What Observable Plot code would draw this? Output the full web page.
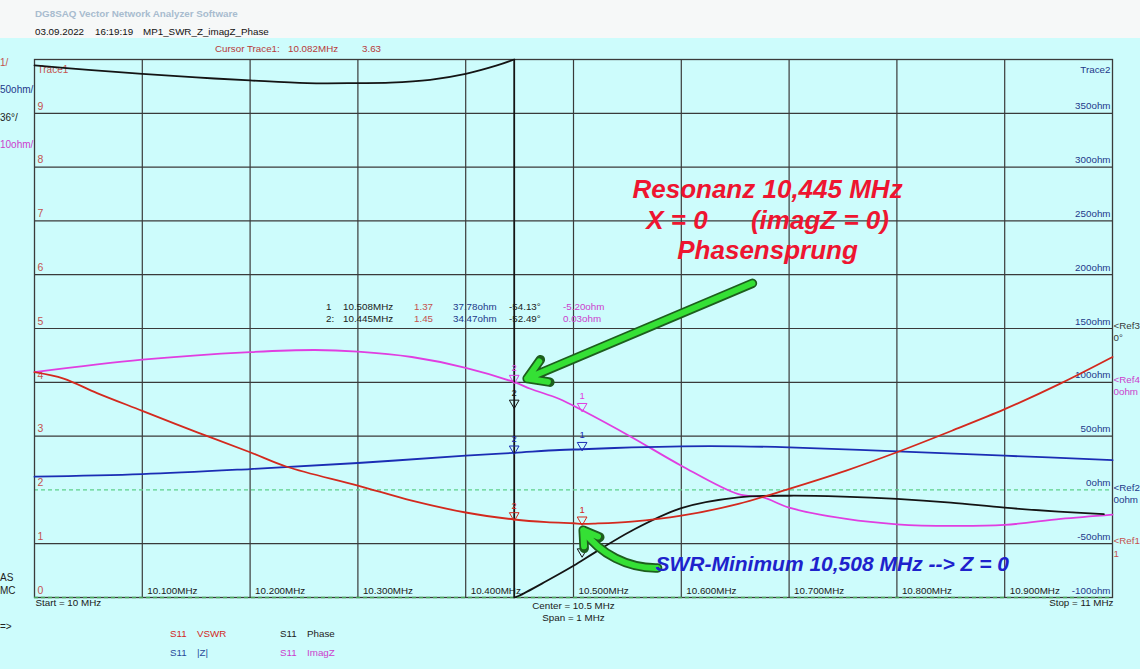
<!DOCTYPE html>
<html><head><meta charset="utf-8">
<script src="https://cdn.jsdelivr.net/npm/d3@7"></script>
<script src="https://cdn.jsdelivr.net/npm/@observablehq/plot@0.6"></script>
<style>
body{margin:0;width:1140px;height:669px;overflow:hidden;background:#cdfcfc;font-family:"Liberation Sans",Arial,sans-serif;position:relative;}
#top{position:absolute;left:0;top:0;width:1140px;height:38px;background:#f6f8f8;}
.t{position:absolute;white-space:pre;font-size:9.8px;line-height:12px;height:12px;}
#chart{position:absolute;left:0;top:38px;}
</style></head><body>
<div id="top"></div>
<div id="chart"></div>
<div id="overlay"></div>
<script>
// ---------- data ----------
const vswrF = [10.0, 10.027, 10.058, 10.1, 10.151, 10.2, 10.234, 10.3, 10.35, 10.4, 10.445, 10.475, 10.5, 10.508, 10.52, 10.554, 10.6, 10.653, 10.7, 10.753, 10.8, 10.851, 10.9, 10.952, 11.0];
const vswr  = [4.19, 4.07, 3.80, 3.47, 3.07, 2.70, 2.43, 2.08, 1.80, 1.58, 1.45, 1.40, 1.38, 1.37, 1.375, 1.41, 1.52, 1.74, 2.02, 2.36, 2.70, 3.10, 3.50, 3.98, 4.47];

const zF   = [10.0, 10.1, 10.2, 10.3, 10.4, 10.445, 10.487, 10.508, 10.554, 10.6, 10.653, 10.7, 10.8, 10.9, 11.0];
const zMag = [12.3, 14.7, 19.4, 25.0, 31.8, 34.47, 37.1, 37.78, 39.5, 40.5, 40.5, 39.5, 35.8, 31.8, 27.7];

const phaseF1 = [10.0, 10.05, 10.1, 10.15, 10.2, 10.253, 10.3, 10.33, 10.367, 10.4, 10.429, 10.445];
const phase1  = [176, 173, 170.4, 168, 166, 164.2, 164.2, 164.5, 166.4, 170.4, 176, 180];
const phaseF2 = [10.445, 10.449, 10.475, 10.5, 10.52, 10.554, 10.6, 10.653, 10.7, 10.75, 10.8, 10.85, 10.9, 10.95, 10.992];
const phase2  = [-180, -179, -169, -158.8, -149.8, -135.3, -120.2, -113, -111.9, -112.5, -114, -116.5, -119.9, -122.5, -124.2];
const phaseJumpF = [10.445];

const imagF = [10.0, 10.1, 10.2, 10.26, 10.3, 10.35, 10.4, 10.445, 10.46, 10.487, 10.508, 10.554, 10.6, 10.653, 10.676, 10.7, 10.753, 10.8, 10.852, 10.9, 10.952, 11.0];
const imagZ = [1.9, 4.2, 5.6, 6.0, 5.7, 4.7, 2.7, 0.03, -1.2, -3.1, -5.2, -10.2, -15.5, -20.8, -21.4, -23.3, -25.4, -26.4, -26.7, -26.5, -25.4, -24.6];

const markerF = [10.508, 10.445];
const markerNo = ["1", "2"];
const markerVswr = [1.37, 1.45];
const markerZ = [37.78, 34.47];
const markerPhase = [-152, -52.49];
const markerImag = [-5.20, 0.03];

const tableNo    = ["1", "2:"];
const tableFreq  = ["10.508MHz", "10.445MHz"];
const tableVswr  = ["1.37", "1.45"];
const tableZ     = ["37.78ohm", "34.47ohm"];
const tablePhase = ["-54.13°", "-52.49°"];
const tableImag  = ["-5.20ohm", "0.03ohm"];

const gridF = [10.1, 10.2, 10.3, 10.4, 10.5, 10.6, 10.7, 10.8, 10.9];
const gridDiv = [1, 3, 4, 5, 6, 7, 8, 9];
const vswrTicks = [0, 1, 2, 3, 4, 5, 6, 7, 8, 9];
const zTicks = [-100, -50, 0, 50, 100, 150, 200, 250, 300, 350];

const refNames  = ["<Ref3", "<Ref4", "<Ref2", "<Ref1"];
const refLabels = ["0°", "0ohm", "0ohm", "1"];
const refTrace  = ["phase", "imag", "z", "vswr"];
const refValue  = [0, 0, 0, 1];

const legendTraces = ["VSWR", "|Z|", "Phase", "ImagZ"];

// annotation anchors: [frequency MHz, VSWR-grid division]
const arrowRes = [[10.666, 5.84, 10.457, 4.07]];
const arrowSwr = [[10.578, 0.55, 10.509, 1.25]];
const noteRes = ["Resonanz 10,445 MHz\nX = 0\u00a0\u00a0\u00a0\u00a0\u00a0 (imagZ = 0)\nPhasensprung"];
const noteResPos = [10.680, 7.04];
const noteSwr = ["SWR-Minimum 10,508 MHz --> Z = 0"];
const noteSwrPos = [10.576, 0.61];

// ---------- scales of each trace onto the common 10-division grid ----------
const toDiv = {vswr: v => v, z: o => o / 50 + 2, phase: p => p / 36 + 5, imag: x => x / 10 + 4};
const col = {vswr: "#d3291e", z: "#1b2db4", phase: "#141414", imag: "#e03ee0"};
const font = "'Liberation Sans', Arial, sans-serif";

function markerMarks(vals, key) {
  return [
    Plot.dot(markerF, {x: d => d, y: (d, i) => toDiv[key](vals[i]), symbol: "triangle", rotate: 180, r: 3.6, stroke: col[key], fill: "none", strokeWidth: 1, dy: -4}),
    Plot.text(markerF, {x: d => d, y: (d, i) => toDiv[key](vals[i]), text: (d, i) => markerNo[i], dy: -14, fontSize: 9.5, fill: col[key]})
  ];
}

function greenArrow(data, bend, wing) {
  const base = {x1: d => d[0], y1: d => d[1], x2: d => d[2], y2: d => d[3], bend, headAngle: 64, strokeLinejoin: "round", strokeLinecap: "round"};
  return [
    Plot.arrow(data, {...base, stroke: "#1d5e1d", strokeWidth: 9.5, headLength: (wing + 2) * 1.5 / 9.5}),
    Plot.arrow(data, {...base, stroke: "#35e035", strokeWidth: 6, headLength: wing * 1.5 / 6})
  ];
}

const chart = Plot.plot({
  width: 1140, height: 631,
  marginTop: 21, marginRight: 28, marginBottom: 72, marginLeft: 34,
  x: {domain: [10, 11], axis: null},
  y: {domain: [0, 10], axis: null},
  style: {background: "#cdfcfc", fontFamily: font, fontSize: "9.8px", overflow: "visible"},
  marks: [
    Plot.ruleX(gridF, {stroke: "#3a3a3a", strokeWidth: 1.2}),
    Plot.ruleY(gridDiv, {stroke: "#3a3a3a", strokeWidth: 1.2}),
    Plot.ruleY([toDiv.z(0)], {stroke: "#5fd08a", strokeWidth: 1.2, strokeDasharray: "4,3"}),
    Plot.frame({stroke: "#3a3a3a", strokeWidth: 1.3}),
    Plot.ruleY([0], {stroke: "#47a85a", strokeWidth: 1.3, strokeDasharray: "4,3"}),
    // axis texts
    Plot.text(vswrTicks, {x: 10, y: d => d, text: d => String(d), dx: 3, dy: -7, textAnchor: "start", fill: "#c4524e", fontSize: 10.5}),
    Plot.text(["Trace1"], {frameAnchor: "top-left", dx: 3, dy: 6, textAnchor: "start", fill: "#c4524e", fontSize: 10}),
    Plot.text(zTicks, {x: 11, y: d => toDiv.z(d), text: d => d + "ohm", dx: -2, dy: -7, textAnchor: "end", fill: "#23388a"}),
    Plot.text(["Trace2"], {frameAnchor: "top-right", dx: -2, dy: 7, textAnchor: "end", fill: "#23388a"}),
    Plot.text(gridF, {x: d => d, y: 0, text: d => d.toFixed(3) + "MHz", dx: 5, dy: -7, textAnchor: "start", fill: "#1a1a1a"}),
    Plot.text(refNames, {x: 11, y: (d, i) => toDiv[refTrace[i]](refValue[i]), text: (d, i) => d + "\n" + refLabels[i], dx: 1, dy: -8, lineAnchor: "top", lineHeight: 1.25, textAnchor: "start",
      fill: (d, i) => ({phase: "#3a3a3a", imag: "#cc3ccc", z: "#23388a", vswr: "#c4524e"})[refTrace[i]]}),
    Plot.text(["Start = 10 MHz"], {frameAnchor: "bottom-left", dx: 1, dy: 8, textAnchor: "start", fill: "#1a1a1a"}),
    Plot.text(["Center = 10.5 MHz\nSpan = 1 MHz"], {x: 10.5, y: 0, dy: 3, lineAnchor: "top", lineHeight: 1.25, fill: "#1a1a1a"}),
    Plot.text(["Stop = 11 MHz"], {frameAnchor: "bottom-right", dx: 1, dy: 8, textAnchor: "end", fill: "#1a1a1a"}),
    // traces
    Plot.line(imagZ, {x: (d, i) => imagF[i], y: d => toDiv.imag(d), stroke: col.imag, strokeWidth: 1.8, curve: "catmull-rom"}),
    Plot.line(zMag, {x: (d, i) => zF[i], y: d => toDiv.z(d), stroke: col.z, strokeWidth: 1.8, curve: "catmull-rom"}),
    Plot.line(phase1, {x: (d, i) => phaseF1[i], y: d => toDiv.phase(d), stroke: col.phase, strokeWidth: 1.8, curve: "catmull-rom"}),
    Plot.line(phase2, {x: (d, i) => phaseF2[i], y: d => toDiv.phase(d), stroke: col.phase, strokeWidth: 1.8, curve: "catmull-rom"}),
    Plot.ruleX(phaseJumpF, {x: d => d, y1: toDiv.phase(180), y2: toDiv.phase(-180), stroke: col.phase, strokeWidth: 1.8}),
    Plot.line(vswr, {x: (d, i) => vswrF[i], y: d => toDiv.vswr(d), stroke: col.vswr, strokeWidth: 1.8, curve: "catmull-rom"}),
    // markers
    ...markerMarks(markerVswr, "vswr"),
    ...markerMarks(markerZ, "z"),
    ...markerMarks(markerPhase, "phase"),
    ...markerMarks(markerImag, "imag"),
    // annotations
    ...greenArrow(arrowRes, 0, 21),
    ...greenArrow(arrowSwr, 28, 16),
    Plot.text(noteRes, {x: noteResPos[0], y: noteResPos[1], fill: "#ee1530", fontSize: 26, fontWeight: "bold", fontStyle: "italic", lineHeight: 1.18, fontFamily: font}),
    Plot.text(noteSwr, {x: noteSwrPos[0], y: noteSwrPos[1], textAnchor: "start", fill: "#1e22cc", fontSize: 21, fontWeight: "bold", fontStyle: "italic", fontFamily: font})
  ]
});
document.getElementById("chart").appendChild(chart);

// ---------- texts around the chart ----------
const ov = document.getElementById("overlay");
function put(text, x, yc, color, extra = "") {
  const d = document.createElement("div");
  d.className = "t";
  d.textContent = text;
  d.style.cssText = `left:${x}px;top:${yc - 6}px;color:${color};${extra}`;
  ov.appendChild(d);
}
put("DG8SAQ Vector Network Analyzer Software", 35, 14, "#a8bccf", "font-weight:bold;");
put("03.09.2022", 35, 32, "#111");
put("16:19:19", 95, 32, "#111");
put("MP1_SWR_Z_imagZ_Phase", 143, 32, "#111");
put("Cursor Trace1:", 215, 49, "#b83a3a");
put("10.082MHz", 288, 49, "#b83a3a");
put("3.63", 362, 49, "#b83a3a");
put("1/", 0, 63, "#c4524e", "font-size:10px;");
put("50ohm/", 0, 90, "#23388a", "font-size:10px;");
put("36°/", 0, 118, "#222", "font-size:10px;");
put("10ohm/", 0, 145, "#cc3ccc", "font-size:10px;");
put("AS", 0, 578, "#222", "font-size:10px;");
put("MC", 0, 591, "#222", "font-size:10px;");
put("=>", 0, 627, "#222", "font-size:10px;");
// marker table
[307, 319].forEach((y, i) => {
  put(tableNo[i], 326, y, "#222");
  put(tableFreq[i], 343, y, "#222");
  put(tableVswr[i], 414, y, "#c4524e");
  put(tableZ[i], 453, y, "#23388a");
  put(tablePhase[i], 509, y, "#222");
  put(tableImag[i], 563, y, "#cc3ccc");
});
// legend
const legCol = [col.vswr, "#2a4a9a", "#222", "#cc3ccc"];
const legX = [170, 170, 280, 280];
const legY = [634, 653, 634, 653];
legendTraces.forEach((t, i) => {
  put("S11", legX[i], legY[i], legCol[i]);
  put(t, legX[i] + 27, legY[i], legCol[i]);
});
</script>
</body></html>
